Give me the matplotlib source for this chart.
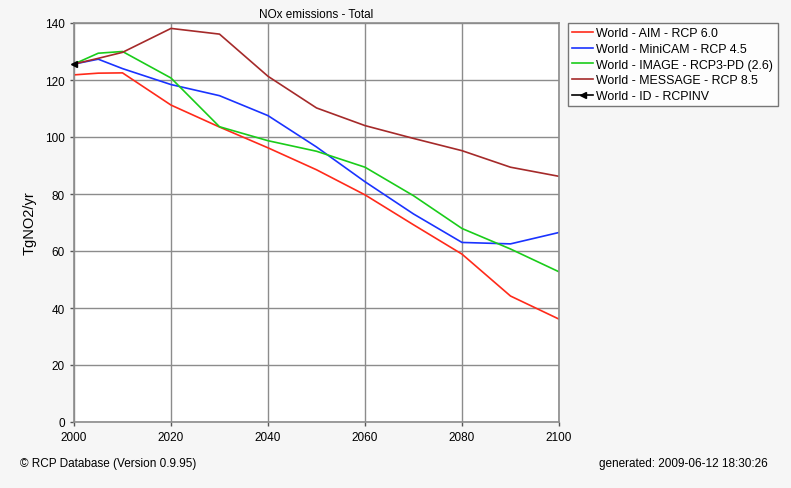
import matplotlib
matplotlib.use("Agg")
import matplotlib.pyplot as plt

plt.rcParams["font.family"] = ["Liberation Sans", "DejaVu Sans"]

YEARS = [2000, 2005, 2010, 2020, 2030, 2040, 2050, 2060, 2070, 2080, 2090, 2100]
AIM = [121.8, 122.4, 122.5, 111.2, 103.5, 96.2, 88.5, 79.7, 69.2, 58.9, 44.2, 36.1]
MINICAM = [125.6, 127.3, 124.0, 118.4, 114.5, 107.5, 96.5, 84.3, 73.0, 63.0, 62.5, 66.5]
IMAGE = [125.6, 129.4, 130.0, 120.7, 103.6, 98.7, 95.0, 89.4, 79.4, 67.9, 60.7, 52.7]
MESSAGE = [125.6, 127.6, 129.7, 138.1, 136.1, 121.3, 110.2, 104.0, 99.5, 95.2, 89.4, 86.2]
ID_YEARS = [2000]
ID_VALUES = [125.5]

LABELS = [
    "World - AIM - RCP 6.0",
    "World - MiniCAM - RCP 4.5",
    "World - IMAGE - RCP3-PD (2.6)",
    "World - MESSAGE - RCP 8.5",
    "World - ID - RCPINV",
]
COLORS = ["#ff2a1a", "#1a33ff", "#1acc1a", "#a52a2a", "#000000"]

fig = plt.figure(figsize=(7.91, 4.89), dpi=100, facecolor="#f6f6f6")
ax = fig.add_axes([74 / 791, 1 - 423 / 489, 485 / 791, 399 / 489])
ax.set_facecolor("white")

series = [AIM, MINICAM, IMAGE, MESSAGE]
handles = []
for values, color, label in zip(series, COLORS, LABELS):
    h, = ax.plot(YEARS, values, color=color, lw=1.2, label=label)
    handles.append(h)
h, = ax.plot(ID_YEARS, ID_VALUES, color="black", marker="<", markersize=5,
             lw=1.2, label=LABELS[4], clip_on=False, zorder=5)
handles.append(h)

ax.set_xlim(2000, 2100)
ax.set_ylim(0, 140)
ax.set_xticks(range(2000, 2101, 20))
ax.set_yticks(range(0, 141, 20))
ax.grid(True, color="#8c8c8c", lw=1)
ax.set_axisbelow(True)
for s in ax.spines.values():
    s.set_color("#8c8c8c")
    s.set_linewidth(1.2)
ax.tick_params(colors="#555555", labelcolor="black", labelsize=8.5, length=3, width=1)

ax.set_title("NOx emissions - Total", fontsize=8.5, pad=4)
ax.set_ylabel("TgNO2/yr", fontsize=10.5, labelpad=6)

leg = fig.legend(handles=handles, loc="upper left", bbox_to_anchor=(568 / 791, 1 - 24 / 489),
                 fontsize=8.9, frameon=True, fancybox=False, handlelength=1.7,
                 handletextpad=0.25, borderpad=0.35, labelspacing=0.3, borderaxespad=0)
leg.get_frame().set_edgecolor("#555555")
leg.get_frame().set_linewidth(1)

fig.text(20 / 791, 1 - 464 / 489, "\u00a9 RCP Database (Version 0.9.95)", fontsize=8.5,
         ha="left", va="center")
fig.text(768 / 791, 1 - 464 / 489, "generated: 2009-06-12 18:30:26", fontsize=8.5,
         ha="right", va="center")

fig.savefig("out.png", dpi=100, facecolor=fig.get_facecolor())
